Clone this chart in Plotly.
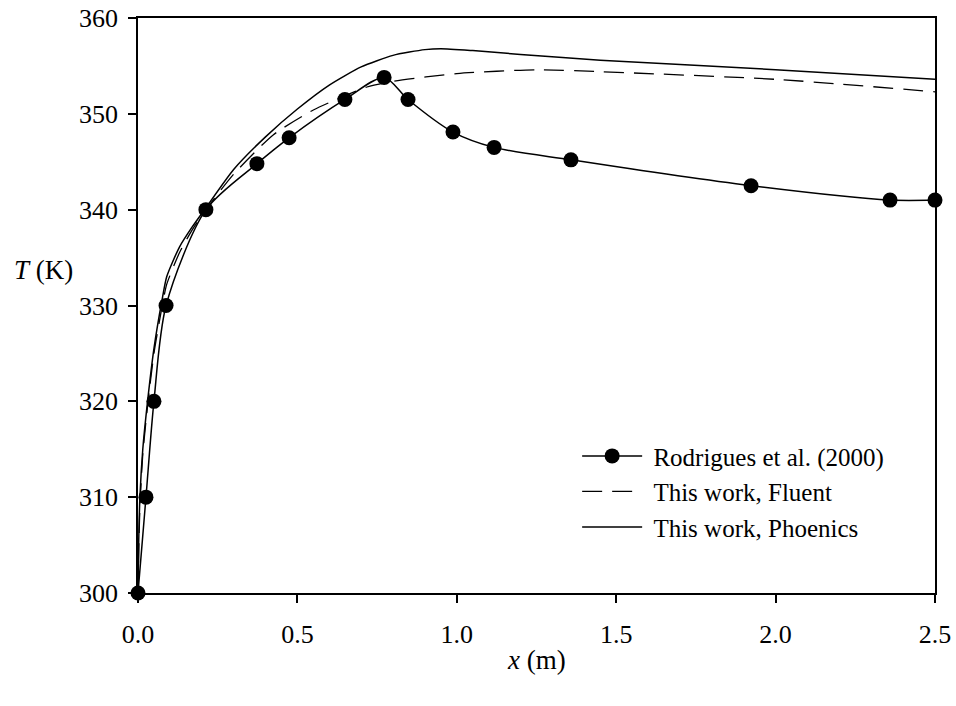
import plotly.graph_objects as go

# Rodrigues et al. (2000) data
rod_x = [0.0, 0.025, 0.05, 0.088, 0.213, 0.373, 0.474, 0.649, 0.772, 0.847, 0.988, 1.117, 1.358, 1.923, 2.359, 2.5]
rod_T = [300, 310, 320, 330, 340, 344.8, 347.5, 351.5, 353.8, 351.5, 348.1, 346.5, 345.2, 342.5, 341.0, 341.0]

# This work, Fluent
flu_x = [0.0, 0.002, 0.006, 0.015, 0.03, 0.05, 0.075, 0.09, 0.13, 0.17, 0.213, 0.3, 0.424, 0.55, 0.718, 0.8, 1.0, 1.25, 1.45, 2.0, 2.5]
flu_T = [300, 304, 309, 314.5, 319.5, 325, 329.8, 332.2, 335.5, 337.9, 340.0, 343.7, 347.8, 350.4, 352.8, 353.4, 354.2, 354.6, 354.4, 353.6, 352.3]

# This work, Phoenics
pho_x = [0.0, 0.002, 0.006, 0.015, 0.03, 0.05, 0.075, 0.09, 0.13, 0.17, 0.213, 0.3, 0.4, 0.5, 0.6, 0.7, 0.8, 0.9, 0.95, 1.05, 1.2, 1.45, 2.0, 2.5]
pho_T = [300, 305, 310, 315, 320, 325.5, 330.5, 333.0, 336.1, 338.2, 340.2, 344.2, 347.6, 350.5, 353.0, 354.9, 356.1, 356.7, 356.8, 356.6, 356.2, 355.6, 354.6, 353.6]

x_ticks = [0.0, 0.5, 1.0, 1.5, 2.0, 2.5]
y_ticks = [300, 310, 320, 330, 340, 350, 360]

FONT = "Liberation Serif"
PAD = "\u00a0"

fig = go.Figure()
fig.add_trace(go.Scatter(
    x=rod_x, y=rod_T, mode="lines+markers", name=PAD + "Rodrigues et al. (2000)",
    line=dict(color="black", width=1.5, shape="spline", smoothing=0.8),
    marker=dict(color="black", size=15, symbol="circle"),
    cliponaxis=False,
))
fig.add_trace(go.Scatter(
    x=flu_x, y=flu_T, mode="lines", name=PAD + "This work, Fluent",
    line=dict(color="black", width=1.3, dash="20px,10px", shape="spline", smoothing=0.6),
))
fig.add_trace(go.Scatter(
    x=pho_x, y=pho_T, mode="lines", name=PAD + "This work, Phoenics",
    line=dict(color="black", width=1.5, shape="spline", smoothing=0.6),
))

fig.update_layout(
    width=956, height=706,
    margin=dict(l=138, r=21, t=18, b=113, autoexpand=False),
    paper_bgcolor="white", plot_bgcolor="white",
    font=dict(family=FONT, size=26, color="black"),
    showlegend=True,
    legend=dict(
        x=0.551, y=0.278, xanchor="left", yanchor="top",
        bgcolor="rgba(0,0,0,0)", borderwidth=0,
        font=dict(family=FONT, size=25, color="black"),
        itemwidth=60, tracegroupgap=0,
    ),
    xaxis=dict(
        range=[0, 2.5], tickvals=x_ticks, ticktext=[f"{v:.1f}" for v in x_ticks],
        showgrid=False, zeroline=False, showline=True, linecolor="black", linewidth=1.5,
        mirror=True, ticks="outside", ticklen=8, tickwidth=1.5, tickcolor="black",
        ticklabelstandoff=9, automargin=False, tickfont=dict(family=FONT, size=26),
    ),
    yaxis=dict(
        range=[300, 360], tickvals=y_ticks,
        showgrid=False, zeroline=False, showline=True, linecolor="black", linewidth=1.5,
        mirror=True, ticks="outside", ticklen=8, tickwidth=1.5, tickcolor="black",
        ticklabelstandoff=5, automargin=False, tickfont=dict(family=FONT, size=26),
    ),
    annotations=[
        dict(text="<i>x</i> (m)", x=0.5, y=-0.1165, xref="paper", yref="paper",
             xanchor="center", yanchor="middle", showarrow=False,
             font=dict(family=FONT, size=27, color="black")),
        dict(text="<i>T</i> (K)", x=-0.158, y=0.562, xref="paper", yref="paper",
             xanchor="left", yanchor="middle", showarrow=False,
             font=dict(family=FONT, size=27, color="black")),
    ],
)

fig.write_html("out.html")
